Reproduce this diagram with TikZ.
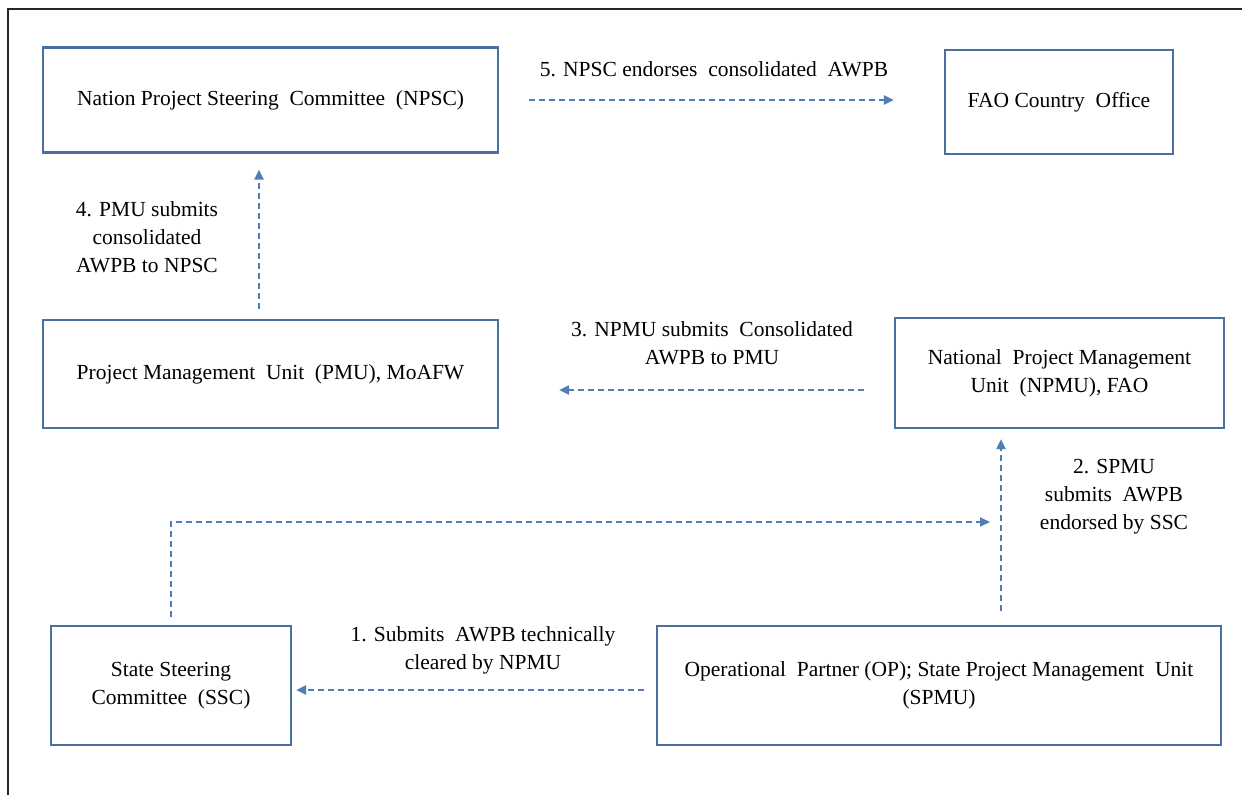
\documentclass[tikz,border=0pt]{standalone}
\usepackage{fontspec}
\setmainfont{Liberation Serif}
\usetikzlibrary{arrows.meta}
\definecolor{boxc}{RGB}{72,112,160}
\definecolor{arrc}{RGB}{79,125,180}
\tikzset{
  box/.style={draw=boxc, line width=2.2pt, align=center, inner sep=0pt, font=\fontsize{21.5}{28}\selectfont},
  lbl/.style={align=center, inner sep=0pt, font=\fontsize{21.5}{28}\selectfont},
  arr/.style={draw=arrc, line width=2pt, dash pattern=on 6pt off 4pt, -{Triangle[length=10pt,width=9pt]}}
}
\begin{document}
\begin{tikzpicture}[x=1pt,y=-1pt]
\useasboundingbox (0,0) rectangle (1242,795);
\fill[white] (0,0) rectangle (1242,795);
\draw[line width=1.5pt, black!85] (8,795) -- (8,9) -- (1242,9);

\node[box, minimum width=455pt, minimum height=105pt] (npsc) at (270.5,100) {Nation Project Steering \ Committee \ (NPSC)};
\node[box, minimum width=228pt, minimum height=104pt] (fao) at (1059,102) {FAO Country \ Office};
\node[box, minimum width=455pt, minimum height=108pt] (pmu) at (270.5,374) {Project Management \ Unit \ (PMU), MoAFW};
\node[box, minimum width=329pt, minimum height=110pt] (npmu) at (1059.5,373) {National \ Project Management\\Unit \ (NPMU), FAO};
\node[box, minimum width=240pt, minimum height=119pt] (ssc) at (171,685.5) {State Steering\\Committee \ (SSC)};
\node[box, minimum width=564pt, minimum height=119pt] (op) at (939,685.5) {Operational \ Partner (OP); State Project Management \ Unit\\(SPMU)};

\node[lbl] (l5) at (714,69) {5. NPSC endorses \ consolidated \ AWPB};
\node[lbl] (l4) at (147,237) {4. PMU submits\\consolidated\\AWPB to NPSC};
\node[lbl] (l3) at (712,343) {3. NPMU submits \ Consolidated\\AWPB to PMU};
\node[lbl] (l2) at (1114,497) {2. SPMU\\submits \ AWPB\\endorsed by SSC};
\node[lbl] (l1) at (483,650) {1. Submits \ AWPB technically\\cleared by NPMU};

\coordinate (elbowend) at (990,522);

\draw[arr] ([xshift=30pt]npsc.east) -- ([xshift=-50pt]npsc.east -| fao.west);
\draw[arr] ([xshift=-11.5pt,yshift=10pt]pmu.north) -- ([xshift=-11.5pt,yshift=-16pt]npsc.south);
\draw[arr] ([xshift=-30pt,yshift=-17pt]npmu.west) -- ([xshift=60pt,yshift=-16pt]pmu.east);
\draw[arr] ([xshift=62pt,yshift=14pt]op.north) -- ([xshift=-58.5pt,yshift=-10pt]npmu.south);
\draw[arr] ([yshift=8pt]ssc.north) |- (elbowend);
\draw[arr] ([xshift=-12pt,yshift=-4.5pt]op.west) -- ([xshift=4pt,yshift=-4.5pt]ssc.east);
\end{tikzpicture}
\end{document}
